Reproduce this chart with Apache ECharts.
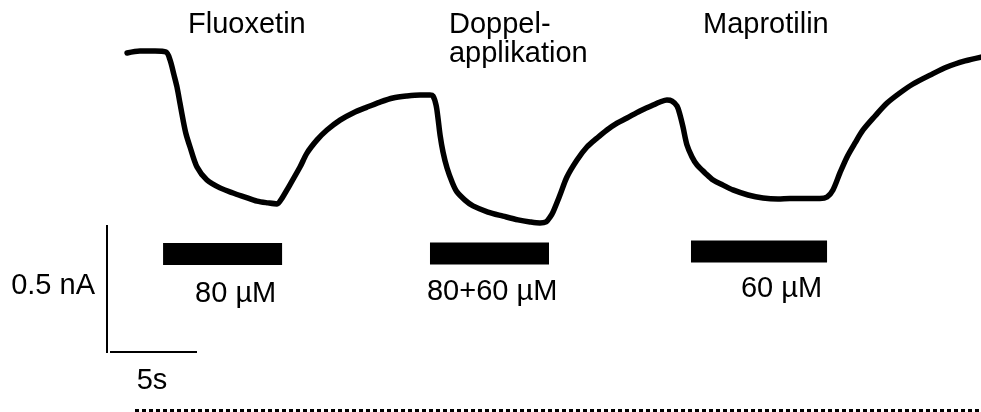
<!DOCTYPE html>
<html><head><meta charset="utf-8">
<script src="https://cdn.jsdelivr.net/npm/echarts@6/dist/echarts.min.js"></script>
<style>html,body{margin:0;padding:0;background:#fff}#c{width:981px;height:412px}</style>
</head><body><div id="c"></div>
<script>
// ---- data (time in s, current in nA, relative to start baseline) ----
const timeS = [0.98,1.72,2.59,3.22,3.45,3.68,3.85,4.02,4.20,4.37,4.60,5.00,5.57,6.32,7.07,7.76,8.45,9.08,9.60,9.89,
  10.17,10.92,11.32,11.90,12.47,13.22,13.97,14.77,15.52,16.26,17.07,17.82,18.39,
  18.56,18.74,18.85,18.97,19.14,19.37,19.66,19.94,20.40,20.86,21.72,22.59,23.45,24.14,24.71,25.06,25.29,25.46,25.86,
  26.26,26.84,27.41,27.99,28.56,29.14,29.71,30.46,31.21,31.61,32.01,32.30,32.59,32.76,32.93,33.16,33.45,33.74,
  34.20,34.66,35.23,35.80,36.67,37.53,38.39,39.08,39.94,40.80,41.21,41.55,41.95,42.36,42.82,43.28,43.97,44.66,
  45.40,46.15,47.13,48.10,49.14,50.06];
const currentNA = [-0.004,0.004,0.004,0,-0.031,-0.091,-0.138,-0.201,-0.268,-0.323,-0.374,-0.453,-0.504,-0.535,-0.555,-0.571,-0.587,-0.594,-0.598,-0.575,
  -0.543,-0.453,-0.398,-0.346,-0.307,-0.268,-0.240,-0.217,-0.197,-0.181,-0.173,-0.169,-0.169,
  -0.173,-0.209,-0.260,-0.327,-0.394,-0.457,-0.512,-0.551,-0.583,-0.606,-0.630,-0.646,-0.661,-0.669,-0.673,-0.669,-0.650,-0.630,-0.563,
  -0.492,-0.425,-0.374,-0.339,-0.307,-0.280,-0.260,-0.232,-0.209,-0.197,-0.189,-0.193,-0.213,-0.248,-0.295,-0.366,-0.413,-0.445,
  -0.476,-0.504,-0.524,-0.543,-0.563,-0.575,-0.579,-0.577,-0.577,-0.577,-0.571,-0.543,-0.476,-0.413,-0.358,-0.307,-0.252,-0.201,
  -0.161,-0.126,-0.091,-0.059,-0.035,-0.020];
const drugNames = ['Fluoxetin', 'Doppel-\napplikation', 'Maprotilin'];
const concLabels = ['80 µM', '80+60 µM', '60 µM'];
const barStartS = [3.05, 18.39, 33.39];
const barEndS = [9.89, 25.23, 41.21];
const scaleTimeS = 5;
const scaleCurrentNA = 0.5;
const scaleTimeLabel = '5s';
const scaleCurrentLabel = '0.5 nA';

// ---- layout ----
const W = 981, H = 412;
const PX_PER_S = 17.4, PX_PER_NA = 254;
const X0 = 110, Y0 = 52;
const xMin = -X0 / PX_PER_S, xMax = (W - X0) / PX_PER_S;
const yMin = -(H - Y0) / PX_PER_NA, yMax = Y0 / PX_PER_NA;
const SCALE_I0 = -(352 - Y0) / PX_PER_NA;
const BAR_CY = [254, 253.5, 251.5], BAR_H = 22;
const DRUG_DX = [25, 19, 12], DRUG_Y = 10, DRUG_LH = 29.5;
const CONC_DX = [32, -3, 50], CONC_Y = [294, 292, 289];
const FONT = {fontFamily: '"Liberation Sans", Arial, sans-serif', fontSize: 29, fill: '#000'};

const chart = echarts.init(document.getElementById('c'), null, {renderer: 'canvas'});
chart.setOption({
  animation: false,
  backgroundColor: '#fff',
  grid: {left: 0, right: 0, top: 0, bottom: 0, containLabel: false},
  xAxis: {type: 'value', min: xMin, max: xMax, show: false},
  yAxis: {type: 'value', min: yMin, max: yMax, show: false},
  graphic: [{
    type: 'line', shape: {x1: 135, y1: 410.5, x2: 981, y2: 410.5},
    style: {stroke: '#000', lineWidth: 3, lineDash: [4, 3]}
  }],
  series: [
    {
      type: 'line', data: timeS.map((t, i) => [t, currentNA[i]]),
      showSymbol: false, smooth: 0.3, clip: false,
      lineStyle: {color: '#000', width: 5.5, cap: 'round', join: 'round'}
    },
    {
      type: 'custom', clip: false,
      data: barStartS.map((s, i) => [s, barEndS[i]]),
      encode: {x: [0, 1]},
      renderItem: function (params, api) {
        const i = params.dataIndex;
        const p0 = api.coord([api.value(0), 0]);
        const p1 = api.coord([api.value(1), 0]);
        return {type: 'group', children: [
          {type: 'rect', shape: {x: p0[0], y: BAR_CY[i] - BAR_H / 2, width: p1[0] - p0[0], height: BAR_H}, style: {fill: '#000'}},
          {type: 'text', style: Object.assign({text: drugNames[i], x: p0[0] + DRUG_DX[i], y: DRUG_Y,
            align: 'left', verticalAlign: 'top', lineHeight: DRUG_LH}, FONT)},
          {type: 'text', style: Object.assign({text: concLabels[i], x: p0[0] + CONC_DX[i], y: CONC_Y[i],
            align: 'left', verticalAlign: 'middle'}, FONT)}
        ]};
      }
    },
    {
      type: 'custom', clip: false,
      data: [[scaleTimeS, scaleCurrentNA]],
      encode: {x: 0, y: 1},
      renderItem: function (params, api) {
        const o = api.coord([0, SCALE_I0]);
        const e = api.coord([api.value(0), SCALE_I0]);
        const t = api.coord([0, SCALE_I0 + api.value(1)]);
        const vx = o[0] - 3;
        return {type: 'group', children: [
          {type: 'line', shape: {x1: o[0], y1: o[1], x2: e[0], y2: e[1]}, style: {stroke: '#000', lineWidth: 2}},
          {type: 'line', shape: {x1: vx, y1: o[1] + 1, x2: vx, y2: t[1]}, style: {stroke: '#000', lineWidth: 2}},
          {type: 'text', style: Object.assign({text: scaleTimeLabel, x: (o[0] + e[0]) / 2 - 1.5, y: o[1] + 29,
            align: 'center', verticalAlign: 'middle'}, FONT)},
          {type: 'text', style: Object.assign({text: scaleCurrentLabel, x: vx - 12, y: (o[1] + t[1]) / 2 - 3,
            align: 'right', verticalAlign: 'middle'}, FONT)}
        ]};
      }
    }
  ]
});
</script></body></html>
